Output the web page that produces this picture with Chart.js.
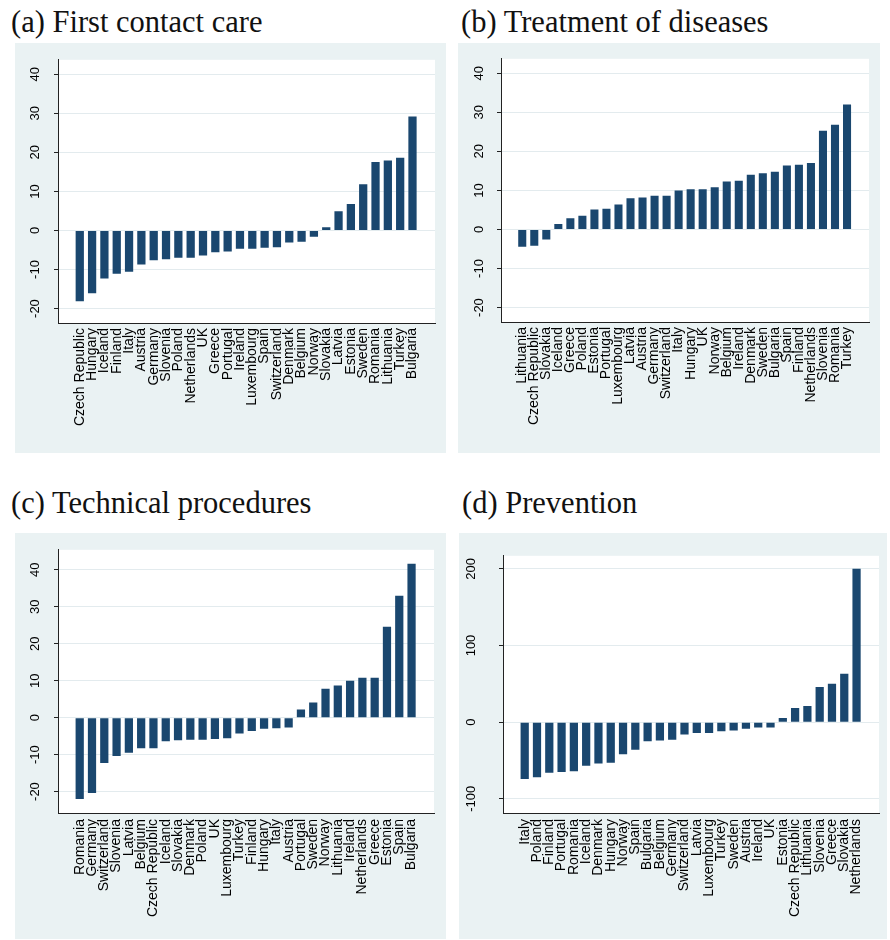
<!DOCTYPE html>
<html><head><meta charset="utf-8">
<script src="https://cdn.jsdelivr.net/npm/chart.js@4/dist/chart.umd.min.js"></script>
<style>
body{margin:0;background:#fff;width:890px;height:940px;position:relative;overflow:hidden}
.t{position:absolute;font-family:'Liberation Serif',serif;font-size:30.5px;color:#111;white-space:nowrap;line-height:1}
.p{position:absolute;background:#eaf2f3}
canvas{display:block}
</style></head><body>
<div class="t" style="left:11px;top:7px">(a) First contact care</div>
<div class="t" style="left:461px;top:7px">(b) Treatment of diseases</div>
<div class="t" style="left:11px;top:488px">(c) Technical procedures</div>
<div class="t" style="left:462px;top:488px">(d) Prevention</div>
<div class="p" style="left:15px;top:43px;width:431px;height:410px"><canvas id="ca" width="431" height="410"></canvas></div>
<div class="p" style="left:458px;top:43px;width:422px;height:410px"><canvas id="cb" width="422" height="410"></canvas></div>
<div class="p" style="left:15px;top:533px;width:431px;height:406px"><canvas id="cc" width="431" height="406"></canvas></div>
<div class="p" style="left:459px;top:533px;width:428px;height:406px"><canvas id="cd" width="428" height="406"></canvas></div>
<script>
const catsA = ["Czech Republic","Hungary","Iceland","Finland","Italy","Austria","Germany","Slovenia","Poland","Netherlands","UK","Greece","Portugal","Ireland","Luxembourg","Spain","Switzerland","Denmark","Belgium","Norway","Slovakia","Latvia","Estonia","Sweden","Romania","Lithuania","Turkey","Bulgaria"];
const valsA = [-18.1,-16.1,-12.3,-11.1,-10.6,-8.7,-7.6,-7.4,-7.0,-7.0,-6.4,-5.6,-5.4,-4.7,-4.7,-4.4,-4.3,-3.1,-2.9,-1.6,0.8,4.9,6.8,11.8,17.5,17.9,18.6,29.2];
const ticksA = [-20,-10,0,10,20,30,40];

const catsB = ["Lithuania","Czech Republic","Slovakia","Iceland","Greece","Poland","Estonia","Portugal","Luxembourg","Latvia","Austria","Germany","Switzerland","Italy","Hungary","UK","Norway","Belgium","Ireland","Denmark","Sweden","Bulgaria","Spain","Finland","Netherlands","Slovenia","Romania","Turkey"];
const valsB = [-4.4,-4.2,-2.6,1.4,2.9,3.5,5.1,5.3,6.4,8.0,8.2,8.6,8.6,10.0,10.3,10.3,10.8,12.3,12.5,14.0,14.4,14.8,16.4,16.6,17.0,25.3,26.8,32.0];
const ticksB = [-20,-10,0,10,20,30,40];

const catsC = ["Romania","Germany","Switzerland","Slovenia","Latvia","Belgium","Czech Republic","Iceland","Slovakia","Denmark","Poland","UK","Luxembourg","Turkey","Finland","Hungary","Italy","Austria","Portugal","Sweden","Norway","Lithuania","Ireland","Netherlands","Greece","Estonia","Spain","Bulgaria"];
const valsC = [-22.0,-20.4,-12.3,-10.4,-9.5,-8.3,-8.3,-6.4,-6.1,-6.0,-6.0,-5.8,-5.6,-4.3,-3.6,-3.0,-2.9,-2.7,2.2,4.1,7.8,8.7,10.0,10.8,10.8,24.6,33.0,41.6];
const ticksC = [-20,-10,0,10,20,30,40];

const catsD = ["Italy","Poland","Finland","Portugal","Romania","Iceland","Denmark","Hungary","Norway","Spain","Bulgaria","Belgium","Germany","Switzerland","Latvia","Luxembourg","Turkey","Sweden","Austria","Ireland","UK","Estonia","Czech Republic","Lithuania","Slovenia","Greece","Slovakia","Netherlands"];
const valsD = [-74,-72,-66,-65,-64,-57,-54,-53,-42,-36,-25,-24,-23,-16,-14,-14,-12,-11,-8.5,-7,-7,5.5,18.6,21,46,50,63,200];
const ticksD = [-100,0,100,200];

const BAR = '#1a476f';

function makeChart(id, cats, vals, yTicks, o) {
  new Chart(document.getElementById(id), {
    type: 'bar',
    data: {
      datasets: [{
        data: vals.map((v, i) => ({x: i, y: v})),
        backgroundColor: BAR,
        borderWidth: 0,
        barPercentage: 0.67,
        categoryPercentage: 1
      }]
    },
    plugins: [{
      id: 'plotbg',
      beforeDraw(chart) {
        const a = chart.chartArea, c = chart.ctx;
        c.save(); c.fillStyle = '#ffffff';
        c.fillRect(a.left, a.top, a.right - a.left, a.bottom - a.top);
        c.restore();
      }
    }],
    options: {
      responsive: false,
      animation: false,
      events: [],
      layout: {padding: {top: o.top, right: o.right, left: 0, bottom: 0}},
      plugins: {legend: {display: false}, tooltip: {enabled: false}},
      scales: {
        x: {
          type: 'linear',
          min: -1.22, max: 28.28,
          afterBuildTicks: s => { s.ticks = cats.map((c, i) => ({value: i})); },
          afterFit: s => { s.height = o.xh; },
          grid: {display: false, drawTicks: false},
          border: {display: true, color: '#222', width: 1},
          ticks: {
            autoSkip: false, minRotation: 90, maxRotation: 90, padding: o.xpad,
            color: '#000',
            font: {family: "'Liberation Sans', Arial, sans-serif", size: 14},
            callback: v => cats[v]
          }
        },
        y: {
          min: o.min, max: o.max,
          afterBuildTicks: s => { s.ticks = yTicks.map(v => ({value: v})); },
          afterFit: s => { s.width = o.yw; },
          grid: {display: true, color: '#e3ebee', lineWidth: 1, drawTicks: true, tickLength: 4, tickColor: '#222'},
          border: {display: true, color: '#222', width: 1},
          ticks: {
            autoSkip: false, minRotation: 90, maxRotation: 90, crossAlign: 'center', padding: o.ypad,
            color: '#000',
            font: {family: "'Liberation Sans', Arial, sans-serif", size: 13}
          }
        }
      }
    }
  });
}

makeChart('ca', catsA, valsA, ticksA, {min: -23.7, max: 43.7, top: 15, right: 11, xh: 130, yw: 43, xpad: 5, ypad: 9});
makeChart('cb', catsB, valsB, ticksB, {min: -23.7, max: 43.7, top: 15, right: 11, xh: 131, yw: 43, xpad: 5, ypad: 8});
makeChart('cc', catsC, valsC, ticksC, {min: -25.8, max: 45.4, top: 15, right: 12, xh: 126, yw: 43, xpad: 6, ypad: 9});
makeChart('cd', catsD, valsD, ticksD, {min: -118.5, max: 217, top: 16, right: 8, xh: 126, yw: 44, xpad: 6, ypad: 15});
</script>
</body></html>
